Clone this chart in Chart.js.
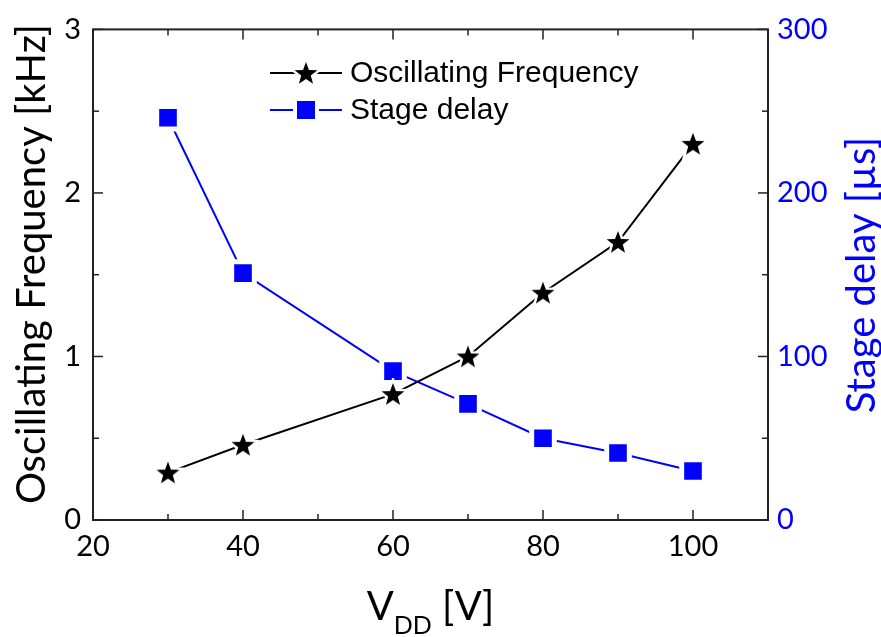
<!DOCTYPE html>
<html>
<head>
<meta charset="utf-8">
<script src="https://cdn.jsdelivr.net/npm/chart.js@4.4.0/dist/chart.umd.min.js"></script>
<style>
  body { margin: 0; background: #fff; }
  canvas { display: block; }
</style>
</head>
<body>
<canvas id="chart" width="881" height="637"></canvas>
<script>
// data
const vdd = [30, 40, 60, 70, 80, 90, 100];
const oscFreq = [0.29, 0.46, 0.77, 1.0, 1.39, 1.7, 2.3];
const stageDelay = [246, 151, 91, 71, 50, 41, 30];

const xTicks = [20, 40, 60, 80, 100];
const xMinor = [30, 50, 70, 90];
const freqTicks = [0, 1, 2, 3];
const freqMinor = [0.5, 1.5, 2.5];
const delayTicks = [0, 100, 200, 300];
const delayMinor = [50, 150, 250];

const BLUE = '#0000ff';
const AXIS = '#222';
const TICK_FONT = { family: 'Lato', size: 29 };

// filled 5 point star with a white rim, so the line stops short of it
function starImage(r) {
    const size = Math.ceil(r * 2 + 8);
    const cv = document.createElement('canvas');
    cv.width = cv.height = size;
    const g = cv.getContext('2d');
    const c = size / 2;
    g.beginPath();
    for (let i = 0; i < 10; i++) {
        const rad = i % 2 ? r * 0.42 : r;
        const a = -Math.PI / 2 + i * Math.PI / 5;
        g.lineTo(c + rad * Math.cos(a), c + rad * Math.sin(a) + r * 0.08);
    }
    g.closePath();
    g.lineWidth = 5;
    g.strokeStyle = '#fff';
    g.stroke();
    g.fillStyle = '#000';
    g.fill();
    return cv;
}
const star = starImage(12);

const setTicks = (list) => (scale) => { scale.ticks = list.map(v => ({ value: v })); };

// box + inward tick marks
const framePlugin = {
    id: 'frame',
    afterDraw(chart) {
        const { ctx, chartArea: a, scales } = chart;
        ctx.save();
        ctx.strokeStyle = AXIS;
        ctx.lineWidth = 2;
        ctx.strokeRect(a.left, a.top, a.right - a.left, a.bottom - a.top);
        ctx.lineWidth = 1.5;
        const seg = (x1, y1, x2, y2) => { ctx.beginPath(); ctx.moveTo(x1, y1); ctx.lineTo(x2, y2); ctx.stroke(); };
        const xt = (v, len) => {
            const x = scales.x.getPixelForValue(v);
            seg(x, a.bottom, x, a.bottom - len);
            seg(x, a.top, x, a.top + len);
        };
        xTicks.forEach(v => xt(v, 10));
        xMinor.forEach(v => xt(v, 6));
        freqTicks.forEach(v => { const y = scales.y.getPixelForValue(v); seg(a.left, y, a.left + 10, y); });
        freqMinor.forEach(v => { const y = scales.y.getPixelForValue(v); seg(a.left, y, a.left + 6, y); });
        delayTicks.forEach(v => { const y = scales.y2.getPixelForValue(v); seg(a.right, y, a.right - 10, y); });
        delayMinor.forEach(v => { const y = scales.y2.getPixelForValue(v); seg(a.right, y, a.right - 6, y); });
        ctx.restore();
    }
};

// legend with line + marker samples
const legendPlugin = {
    id: 'lineLegend',
    afterDraw(chart) {
        const ctx = chart.ctx;
        const rows = [
            { y: 73, color: '#000', label: chart.data.datasets[0].label, marker: 'star' },
            { y: 110, color: BLUE, label: chart.data.datasets[1].label, marker: 'rect' },
        ];
        ctx.save();
        ctx.font = '30px "Liberation Sans", Arial, sans-serif';
        ctx.textBaseline = 'middle';
        rows.forEach(r => {
            ctx.strokeStyle = r.color;
            ctx.lineWidth = 2;
            ctx.beginPath(); ctx.moveTo(270, r.y); ctx.lineTo(342, r.y); ctx.stroke();
            if (r.marker === 'star') {
                ctx.drawImage(star, 306 - star.width / 2, r.y - star.height / 2);
            } else {
                ctx.fillStyle = '#fff';
                ctx.fillRect(293, r.y - 13, 26, 26);
                ctx.fillStyle = BLUE;
                ctx.fillRect(297, r.y - 9, 18, 18);
            }
            ctx.fillStyle = '#000';
            ctx.fillText(r.label, 350, r.y + 1);
        });
        ctx.restore();
    }
};

// axis titles: x with subscript, both y titles reading bottom to top
const titlesPlugin = {
    id: 'axisTitles',
    afterDraw(chart) {
        const ctx = chart.ctx;
        const a = chart.chartArea;
        ctx.save();
        ctx.textBaseline = 'alphabetic';
        const big = '40px Lato', small = '25px Lato';

        ctx.fillStyle = '#000';
        ctx.font = big; const wV = ctx.measureText('V').width; const wU = ctx.measureText(' [V]').width;
        ctx.font = small; const wD = ctx.measureText('DD').width;
        let x = (a.left + a.right) / 2 - (wV + wD + wU) / 2;
        ctx.font = big; ctx.fillText('V', x, 620); x += wV;
        ctx.font = small; ctx.fillText('DD', x, 634); x += wD;
        ctx.font = big; ctx.fillText(' [V]', x, 620);

        ctx.textAlign = 'center';
        ctx.font = big;
        ctx.save();
        ctx.translate(45, 264);
        ctx.rotate(-Math.PI / 2);
        ctx.fillText('Oscillating Frequency [kHz]', 0, 0);
        ctx.restore();

        ctx.fillStyle = BLUE;
        ctx.translate(875, 275);
        ctx.rotate(-Math.PI / 2);
        ctx.fillText('Stage delay [µs]', 0, 0);
        ctx.restore();
    }
};

new Chart(document.getElementById('chart'), {
    type: 'line',
    data: {
        datasets: [
            {
                label: 'Oscillating Frequency',
                data: vdd.map((v, i) => ({ x: v, y: oscFreq[i] })),
                yAxisID: 'y',
                borderColor: '#000',
                borderWidth: 2,
                pointStyle: star,
                backgroundColor: '#000',
            },
            {
                label: 'Stage delay',
                data: vdd.map((v, i) => ({ x: v, y: stageDelay[i] })),
                yAxisID: 'y2',
                borderColor: BLUE,
                borderWidth: 2,
                pointStyle: 'rect',
                pointRadius: 16,
                pointBackgroundColor: BLUE,
                pointBorderColor: '#fff',
                pointBorderWidth: 5,
            },
        ],
    },
    options: {
        responsive: false,
        devicePixelRatio: 1,
        animation: false,
        layout: { padding: { top: 28, left: 0, right: 0, bottom: 0 } },
        plugins: {
            legend: { display: false },
            tooltip: { enabled: false },
        },
        scales: {
            x: {
                type: 'linear',
                min: 20,
                max: 110,
                afterBuildTicks: setTicks(xTicks),
                afterFit: (s) => { s.height = 117; },
                grid: { display: false, drawTicks: false },
                border: { display: false },
                ticks: { color: '#000', font: TICK_FONT, padding: 9, maxRotation: 0 },
            },
            y: {
                position: 'left',
                min: 0,
                max: 3,
                afterBuildTicks: setTicks(freqTicks),
                afterFit: (s) => { s.width = 93; },
                grid: { display: false, drawTicks: false },
                border: { display: false },
                ticks: { color: '#000', font: TICK_FONT, padding: 12 },
            },
            y2: {
                position: 'right',
                min: 0,
                max: 300,
                afterBuildTicks: setTicks(delayTicks),
                afterFit: (s) => { s.width = 113; },
                grid: { display: false, drawTicks: false },
                border: { display: false },
                ticks: { color: BLUE, font: TICK_FONT, padding: 9 },
            },
        },
    },
    plugins: [framePlugin, legendPlugin, titlesPlugin],
});
</script>
</body>
</html>
